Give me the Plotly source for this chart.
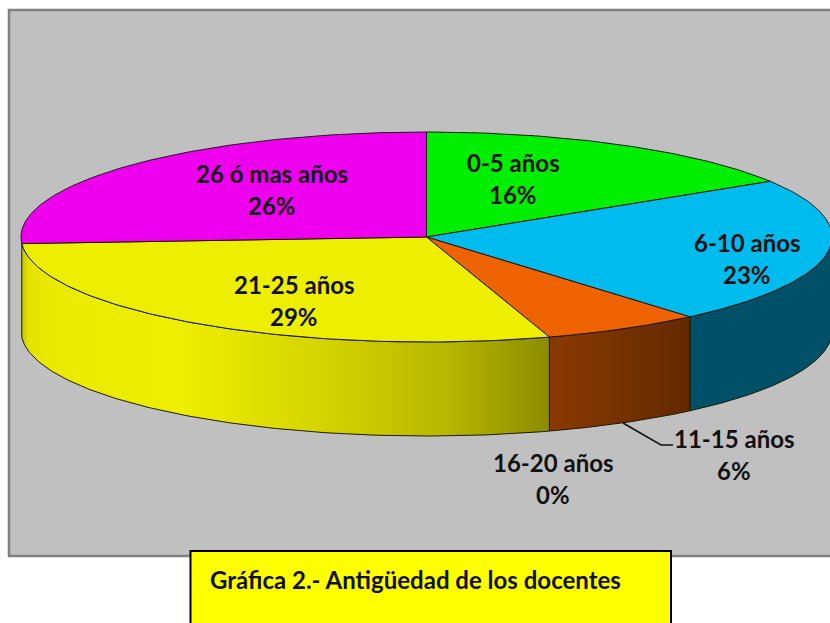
import numpy as np
import plotly.graph_objects as go

categories = ["0-5 años", "6-10 años", "11-15 años", "16-20 años", "21-25 años", "26 ó mas años"]
values = [16.1, 22.65, 6.35, 0, 28.9, 26.0]
top_colors = ["#00EE00", "#00BBEE", "#EE6200", "#AA3300", "#EEEE00", "#EE00EE"]
side_scales = {
    "6-10 años": [[0, "#005068"], [1, "#005068"]],
    "11-15 años": [[0, "#8A3A00"], [1, "#642900"]],
    "21-25 años": [[0, "#C4C400"], [0.012, "#E2E200"], [0.06, "#EAEA00"], [0.3, "#EEEE00"],
                   [0.55, "#D6D600"], [0.8, "#B8B800"], [1, "#8C8C00"]],
}
label_pos = {
    "0-5 años": (513, 162), "6-10 años": (747, 242), "11-15 años": (734, 438),
    "16-20 años": (553, 462), "21-25 años": (294, 284), "26 ó mas años": (272, 173),
}
title_text = "Gráfica 2.- Antigüedad de los docentes"

CX, CY, RX, RY, DEPTH = 426.5, 237, 405.5, 105, 94
FONT = "Lato, Carlito, sans-serif"


def rim(a0, a1, n=120):
    t = np.radians(np.linspace(a0, a1, n))
    return CX + RX * np.sin(t), CY - RY * np.cos(t)


cum = np.cumsum([0] + values) * 3.6
fig = go.Figure()

# outer wall: only the front half (90..270 degrees) is visible
for name, a0, a1 in zip(categories, cum[:-1], cum[1:]):
    lo, hi = max(a0, 90), min(a1, 270)
    if name not in side_scales or hi <= lo:
        continue
    x, y = rim(lo, hi)
    xs = np.r_[x, x[::-1], x[0]]
    ys = np.r_[y, y[::-1] + DEPTH, y[0]]
    fig.add_trace(go.Scatter(
        x=xs, y=ys, mode="lines", fill="toself", hoverinfo="skip",
        line=dict(color="#1A1A00", width=1),
        fillgradient=dict(type="horizontal", colorscale=side_scales[name]),
    ))

# top face
for name, a0, a1, col in zip(categories, cum[:-1], cum[1:], top_colors):
    if a1 <= a0:
        continue
    x, y = rim(a0, a1)
    fig.add_trace(go.Scatter(
        x=np.r_[CX, x, CX], y=np.r_[CY, y, CY], mode="lines", fill="toself",
        fillcolor=col, line=dict(color="#1A1A1A", width=1), hoverinfo="skip",
    ))

# leader line of the 11-15 label
fig.add_trace(go.Scatter(x=[623, 661, 673], y=[423, 445, 445], mode="lines",
                         line=dict(color="#111111", width=1.5), hoverinfo="skip"))

for name, val in zip(categories, values):
    px, py = label_pos[name]
    for text, yy in ((name, py), (f"{round(val)}%", py + 32)):
        fig.add_annotation(x=px, y=yy, text=f"<b>{text}</b>", showarrow=False,
                           xanchor="center", yanchor="middle",
                           font=dict(family=FONT, size=24, color="#111111"))

fig.add_annotation(x=208, y=579, text=f"<b>{title_text}</b>", showarrow=False,
                   xanchor="left", yanchor="middle",
                   font=dict(family=FONT, size=24, color="#111111"))

fig.update_layout(
    width=830, height=623, margin=dict(l=0, r=0, t=0, b=0),
    paper_bgcolor="white", plot_bgcolor="white", showlegend=False,
    xaxis=dict(visible=False, range=[0, 830], fixedrange=True),
    yaxis=dict(visible=False, range=[623, 0], fixedrange=True),
    shapes=[
        dict(type="rect", x0=9, x1=840, y0=10, y1=556, layer="below",
             fillcolor="#C0C0C0", line=dict(color="#808080", width=2.5)),
        dict(type="rect", x0=190.5, x1=671, y0=551, y1=640, layer="above",
             fillcolor="#FFFF00", line=dict(color="#000000", width=2)),
    ],
)
fig.write_html("out.html", post_script="document.body.style.margin='0';",
               config={"displayModeBar": False})
